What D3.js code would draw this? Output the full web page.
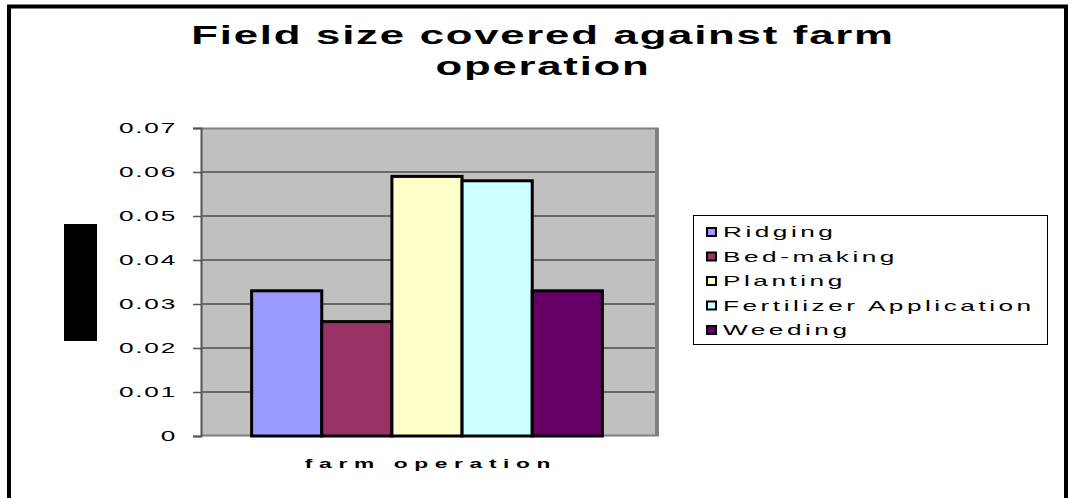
<!DOCTYPE html>
<html>
<head>
<meta charset="utf-8">
<script src="https://cdn.jsdelivr.net/npm/d3@7"></script>
<style>
  html, body { margin: 0; padding: 0; background: #fff; }
  svg { display: block; font-family: "Liberation Sans", Arial, sans-serif; }
</style>
</head>
<body>
<svg id="chart" width="1070" height="498"></svg>
<script>
// Field size covered per farm operation (one category, five series)
const categories = ["farm operation"];
const seriesNames = ["Ridging", "Bed-making", "Planting", "Fertilizer Application", "Weeding"];
const seriesValues = [0.033, 0.026, 0.059, 0.058, 0.033];
const seriesColors = ["#9999FF", "#993366", "#FFFFCC", "#CCFFFF", "#660066"];
const yTicks = [0, 0.01, 0.02, 0.03, 0.04, 0.05, 0.06, 0.07];
const yTickLabels = ["0", "0.01", "0.02", "0.03", "0.04", "0.05", "0.06", "0.07"];
const titleLines = ["Field size covered against farm", "operation"];

// all text is drawn horizontally widened
const SX = 1.75;

const svg = d3.select("#chart");

// outer chart frame
svg.append("rect")
  .attr("x", 9).attr("y", 6.5)
  .attr("width", 1057).attr("height", 500)
  .attr("fill", "#fff").attr("stroke", "#000").attr("stroke-width", 4);

// plot area
const plot = { left: 201, top: 128, right: 657, bottom: 436 };

const y = d3.scaleLinear().domain([0, 0.07]).range([plot.bottom, plot.top]);
// one category band; bars fill it leaving a gap of 150% of a bar width
const xCat = d3.scaleBand().domain(categories).range([plot.left, plot.right]);
const gap = xCat.bandwidth() * 0.75 / 6.5;
const xSeries = d3.scaleBand().domain(seriesNames)
  .range([xCat(categories[0]) + gap - 2, xCat(categories[0]) + xCat.bandwidth() - gap - 2]);

svg.append("rect")
  .attr("x", plot.left).attr("y", plot.top)
  .attr("width", plot.right - plot.left).attr("height", plot.bottom - plot.top)
  .attr("fill", "#C0C0C0");

// gridlines
svg.append("g")
  .selectAll("line")
  .data(yTicks.filter(d => d > 0 && d < 0.07))
  .join("line")
  .attr("x1", plot.left).attr("x2", plot.right)
  .attr("y1", d => y(d)).attr("y2", d => y(d))
  .attr("stroke", "#4d4d4d").attr("stroke-width", 1.5);

// plot area border (light top/bottom, heavier right edge)
svg.append("line")
  .attr("x1", plot.left).attr("x2", plot.right + 2)
  .attr("y1", plot.top + 0.5).attr("y2", plot.top + 0.5)
  .attr("stroke", "#808080").attr("stroke-width", 2);
svg.append("line")
  .attr("x1", plot.left).attr("x2", plot.right + 2)
  .attr("y1", plot.bottom - 0.5).attr("y2", plot.bottom - 0.5)
  .attr("stroke", "#808080").attr("stroke-width", 2);
svg.append("line")
  .attr("x1", plot.right).attr("x2", plot.right)
  .attr("y1", plot.top).attr("y2", plot.bottom)
  .attr("stroke", "#808080").attr("stroke-width", 4);

// bars
svg.append("g")
  .selectAll("rect")
  .data(seriesNames.map((s, i) => ({ name: s, value: seriesValues[i], color: seriesColors[i] })))
  .join("rect")
  .attr("x", d => xSeries(d.name))
  .attr("y", d => y(d.value))
  .attr("width", xSeries.bandwidth())
  .attr("height", d => plot.bottom - y(d.value))
  .attr("fill", d => d.color)
  .attr("stroke", "#000").attr("stroke-width", 3);

// y axis
const yAxis = d3.axisLeft(y)
  .tickValues(yTicks)
  .tickFormat((d, i) => yTickLabels[i])
  .tickSize(8).tickPadding(16);
const gy = svg.append("g").attr("transform", `translate(${plot.left},0)`).call(yAxis);
gy.select(".domain").attr("stroke", "#555").attr("stroke-width", 2);
gy.selectAll(".tick line").attr("stroke", "#555").attr("stroke-width", 1.5);
gy.selectAll(".tick text")
  .attr("x", -24 / SX)
  .attr("transform", `scale(${SX},1)`)
  .attr("font-size", 15).attr("fill", "#000")
  .style("letter-spacing", "1px");

// category axis title
svg.append("text")
  .attr("transform", `translate(${(plot.left + plot.right) / 2 + 2},468) scale(${SX},1)`)
  .attr("text-anchor", "middle")
  .attr("font-size", 13).attr("font-weight", "bold")
  .style("letter-spacing", "3.8px")
  .text(categories[0]);

// y axis title block
svg.append("rect")
  .attr("x", 64).attr("y", 224).attr("width", 33).attr("height", 117)
  .attr("fill", "#000");

// chart title
svg.append("g")
  .selectAll("text")
  .data(titleLines)
  .join("text")
  .attr("transform", (d, i) => `translate(543,${44 + i * 31}) scale(${SX},1)`)
  .attr("text-anchor", "middle")
  .attr("font-size", 25).attr("font-weight", "bold")
  .style("letter-spacing", "1px")
  .text(d => d);

// legend
const legend = svg.append("g");
legend.append("rect")
  .attr("x", 693.5).attr("y", 215.5).attr("width", 354).attr("height", 129)
  .attr("fill", "#fff").attr("stroke", "#000").attr("stroke-width", 1);
const items = legend.selectAll("g.item")
  .data(seriesNames.map((s, i) => ({ name: s, color: seriesColors[i] })))
  .join("g").attr("class", "item")
  .attr("transform", (d, i) => `translate(707, ${232 + i * 24.5})`);
items.append("rect")
  .attr("x", 0).attr("y", -4).attr("width", 9).attr("height", 8)
  .attr("fill", d => d.color).attr("stroke", "#000").attr("stroke-width", 2);
items.append("text")
  .attr("transform", `translate(16,0) scale(${SX},1)`)
  .attr("dy", "0.35em")
  .attr("font-size", 15).style("letter-spacing", "2px")
  .text(d => d.name);
</script>
</body>
</html>
